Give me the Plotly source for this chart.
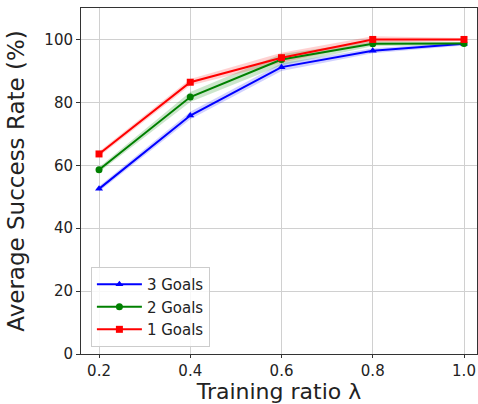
import plotly.graph_objects as go

ratios = [0.2, 0.4, 0.6, 0.8, 1.0]
goals3 = [52.5, 75.8, 91.2, 96.4, 98.6]
goals2 = [58.6, 81.7, 93.6, 98.6, 98.7]
goals1 = [63.6, 86.4, 94.2, 100.0, 100.0]
std3 = [0.8, 1.2, 1.2, 0.8, 0.5]
std2 = [0.8, 1.6, 1.8, 0.8, 0.5]
std1 = [0.8, 1.0, 1.6, 1.0, 0.5]
x_ticks = [0.2, 0.4, 0.6, 0.8, 1.0]
x_labels = ["0.2", "0.4", "0.6", "0.8", "1.0"]
y_ticks = [0, 20, 40, 60, 80, 100]

series = [
    ("3 Goals", goals3, std3, "#0000ff", "rgba(0,0,255,0.18)", "triangle-up"),
    ("2 Goals", goals2, std2, "#008000", "rgba(0,128,0,0.2)", "circle"),
    ("1 Goals", goals1, std1, "#ff0000", "rgba(255,0,0,0.18)", "square"),
]

fig = go.Figure()
for name, ys, sd, col, fcol, sym in series:
    upper = [y + s for y, s in zip(ys, sd)]
    lower = [y - s for y, s in zip(ys, sd)]
    fig.add_trace(go.Scatter(
        x=ratios + ratios[::-1], y=upper + lower[::-1],
        fill="toself", fillcolor=fcol, line=dict(width=0),
        hoverinfo="skip", showlegend=False, mode="lines"))
for name, ys, sd, col, fcol, sym in series:
    fig.add_trace(go.Scatter(
        x=ratios, y=ys, name=name, mode="lines+markers",
        line=dict(color=col, width=2),
        marker=dict(symbol=sym, size=7, color=col)))

fig.update_layout(
    width=478, height=404,
    margin=dict(l=81, r=1, t=8, b=50),
    paper_bgcolor="white", plot_bgcolor="white",
    font=dict(family="DejaVu Sans", color="#222222"),
    showlegend=True,
    legend=dict(
        x=0.025, y=0.02, xanchor="left", yanchor="bottom",
        bgcolor="rgba(255,255,255,0.85)", bordercolor="#cccccc", borderwidth=1,
        font=dict(size=15, family="DejaVu Sans", color="#222222"),
        tracegroupgap=0, itemwidth=45),
    xaxis=dict(
        range=[0.1605, 1.0285], tickvals=x_ticks, ticktext=x_labels,
        showgrid=True, gridcolor="#d0d0d0", gridwidth=1,
        showline=True, linecolor="#333333", linewidth=1, mirror=True,
        ticks="outside", ticklen=3, tickcolor="#333333",
        tickfont=dict(size=15), zeroline=False,
        title=dict(text="Training ratio λ", font=dict(size=22), standoff=4)),
    yaxis=dict(
        range=[0, 110], tickvals=y_ticks,
        showgrid=True, gridcolor="#d0d0d0", gridwidth=1,
        showline=True, linecolor="#333333", linewidth=1, mirror=True,
        ticks="outside", ticklen=4, tickcolor="#333333",
        tickfont=dict(size=15), zeroline=False,
        title=dict(text="Average Success Rate (%)", font=dict(size=23), standoff=13)),
)

fig.write_html("out.html", config={"displayModeBar": False},
               post_script="document.body.style.margin='0';")
